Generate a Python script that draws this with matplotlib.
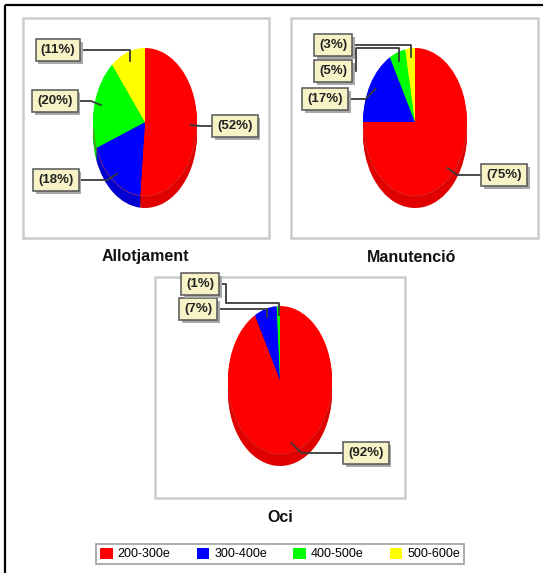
import numpy as np
import matplotlib.pyplot as plt
from matplotlib import patheffects
from matplotlib.patches import Rectangle, Patch, Arc

plt.rcParams['font.family'] = ['Liberation Sans', 'DejaVu Sans']

W, H = 551, 573

categories = ['200-300e', '300-400e', '400-500e', '500-600e']
colors = ['#ff0000', '#0000ff', '#00ff00', '#ffff00']
side_colors = ['#e00000', '#0000d0', '#00d000', '#d8d800']

titles = ['Allotjament', 'Manutenció', 'Oci']
allotjament = [52, 18, 20, 11]
manutencio = [75, 17, 5, 3]
oci = [92, 7, 1, 0]
series = [allotjament, manutencio, oci]

# layout in pixels (y down)
centers = [(145, 122), (415, 122), (280, 380)]
a, b, d = 52, 74, 12
panels = [(23, 18, 269, 238), (291, 18, 538, 238), (155, 277, 405, 498)]
title_xy = [(145, 257), (412, 257), (280, 517)]

# label box centres and leader routing: (x, y, turn_x, via_y)
label_pos = [
    [(235, 126, None, None), (56, 180, None, None), (55, 101, None, None), (58, 50, None, 50)],
    [(504, 175, None, None), (325, 99, None, None), (333, 71, 356, 48), (333, 45, None, 45)],
    [(366, 453, None, None), (198, 309, None, 309), (200, 284, 226, 303), None],
]

fig = plt.figure(figsize=(W / 100, H / 100), dpi=100)

bg = fig.add_axes([0, 0, 1, 1], zorder=0)
bg.set_xlim(0, W)
bg.set_ylim(H, 0)
bg.axis('off')
bg.plot([5, 5], [H, 5], color='black', lw=1.6, solid_capstyle='butt')
bg.plot([5, 543], [5, 5], color='black', lw=1.6, solid_capstyle='butt')
for (x0, y0, x1, y1), t, (tx, ty) in zip(panels, titles, title_xy):
    bg.add_patch(Rectangle((x0, y0), x1 - x0, y1 - y0, fill=False, ec='#cccccc', lw=1.8))
    bg.text(tx, ty, t, ha='center', va='center', fontsize=11.5, fontweight='bold', color='#111111')

ov = fig.add_axes([0, 0, 1, 1], zorder=2)
ov.patch.set_alpha(0)
ov.set_xlim(0, W)
ov.set_ylim(H, 0)
ov.axis('off')
box_shadow = [patheffects.SimplePatchShadow(offset=(2, -2), shadow_rgbFace='#a8a8a8', alpha=1),
              patheffects.Normal()]

for vals, (cx, cy), labs in zip(series, centers, label_pos):
    ax = fig.add_axes([(cx - a) / W, 1 - (cy + b + d) / H, 2 * a / W, (2 * b + d) / H], zorder=1)
    # side of the 3D pie: stacked copies shifted down
    for k in np.linspace(d / b, 0, 7)[:-1]:
        ax.pie(vals, colors=side_colors, startangle=90, counterclock=False,
               center=(0, -k), wedgeprops=dict(linewidth=0))
    ax.pie(vals, colors=colors, startangle=90, counterclock=False,
           wedgeprops=dict(linewidth=0))
    ax.add_patch(Arc((0, 0), 2, 2, theta1=185, theta2=355, color='#c84040', lw=0.8, alpha=0.5))
    ax.set_aspect('auto')
    ax.set_xlim(-1, 1)
    ax.set_ylim(-1 - d / b, 1)
    ax.axis('off')

    total = sum(vals)
    cum = np.cumsum(vals)
    for v, c, lab in zip(vals, cum, labs):
        if lab is None or v == 0:
            continue
        th = np.deg2rad(360 * (c - v / 2) / total)
        pt = ax.transData.transform((0.88 * np.sin(th), 0.88 * np.cos(th)))
        axp, ayp = ov.transData.inverted().transform(pt)
        bx, by, turn_x, via_y = lab
        if via_y is None:
            ex = axp - 10 if axp > bx else axp + 10
            xs, ys = [bx, ex, axp], [by, by, ayp]
        elif turn_x is None:
            xs, ys = [bx, axp, axp], [by, via_y, ayp]
        else:
            xs, ys = [bx, turn_x, turn_x, axp, axp], [by, by, via_y, via_y, ayp]
        ov.plot(xs, ys, color='#3a3a3a', lw=1.3, zorder=3)
        t = ov.text(bx, by, f'({v}%)', ha='center', va='center', fontsize=9.5,
                    fontweight='bold', color='#222222',
                    bbox=dict(boxstyle='square,pad=0.38', fc='#f7f3c6', ec='#555555', lw=1.1),
                    zorder=5)
        t.get_bbox_patch().set_path_effects(box_shadow)

handles = [Patch(fc=c, ec='none') for c in colors]
leg = fig.legend(handles, categories, ncol=4, loc='center',
                 bbox_to_anchor=(280 / W, 1 - 554 / H), frameon=True, fancybox=False,
                 edgecolor='#888888', fontsize=9, handlelength=1.0, handleheight=1.0,
                 handletextpad=0.4, columnspacing=2.1, borderpad=0.3)
leg.get_frame().set_linewidth(1.2)

fig.savefig('out.png', dpi=100)
